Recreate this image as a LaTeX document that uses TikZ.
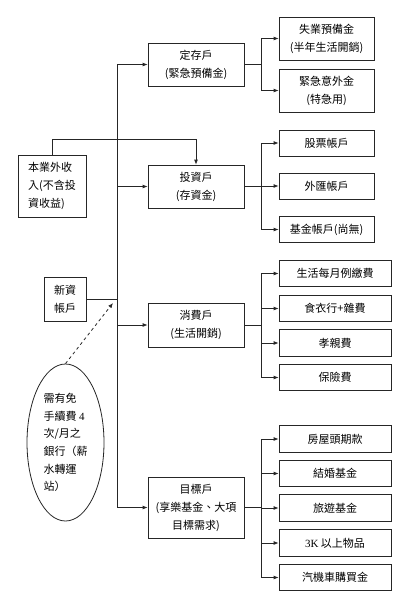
\documentclass[tikz,border=0pt]{standalone}
\usepackage{fontspec}
\newfontfamily\cjk{Noto Sans CJK TC}
\setmainfont{Liberation Serif}
\usetikzlibrary{arrows.meta,shapes.geometric}
\tikzset{
  bx/.style={draw=black!85,line width=0.8pt,fill=white,inner sep=1pt,align=center,
    font=\cjk\fontsize{11}{18}\selectfont},
  big/.style={bx,minimum width=96pt,minimum height=43pt},
  sub/.style={bx,minimum width=95pt},
  wide/.style={bx,minimum width=112pt,minimum height=26.5pt},
  ln/.style={line width=0.8pt,draw=black!85},
  arr/.style={ln,-{Latex[length=5pt,width=4pt]}}
}
\begin{document}
\begin{tikzpicture}[x=1pt,y=-1pt]
\useasboundingbox (0,0) rectangle (406,600);
\fill[white] (0,0) rectangle (406,600);
% main boxes
\node[big] (dc) at (196,64.5) {定存戶\\(緊急預備金)};
\node[big] (tz) at (196,186.5) {投資戶\\(存資金)};
\node[big,minimum height=44pt] (xf) at (196,325) {消費戶\\(生活開銷)};
\node[big,minimum height=61pt] (mb) at (196,507.5) {目標戶\\(享樂基金、大項\\目標需求)};
% sources
\node[bx,minimum width=68pt,minimum height=62pt,align=left] (inc) at (52,186) {本業外收\\入(不含投\\資收益)};
\node[bx,minimum width=42pt,minimum height=44pt,align=left] (sal) at (65,299) {新資\\帳戶};
\node[draw=black!85,line width=0.8pt,ellipse,minimum width=77pt,minimum height=157pt,inner sep=0pt,align=left,
  font=\cjk\fontsize{11}{17.7}\selectfont] (ell) at (65.5,442.5)
  {需有免\\手續費{\rmfamily\ 4}\\次/月之\\銀行（薪\\水轉運\\站）};
% sub boxes
\node[sub,minimum height=43pt] (s1) at (326.5,38.5) {失業預備金\\(半年生活開銷)};
\node[sub,minimum height=43pt] (s2) at (326.5,90.5) {緊急意外金\\(特急用)};
\node[sub,minimum height=26pt] (t1) at (326.5,143) {股票帳戶};
\node[sub,minimum height=26pt] (t2) at (326.5,186) {外匯帳戶};
\node[sub,minimum height=26pt] (t3) at (326.5,229.5) {基金帳戶(尚無)};
\node[wide] (x1) at (335,273.5) {生活每月例繳費};
\node[wide] (x2) at (335,308.5) {食衣行+雜費};
\node[wide] (x3) at (335,343) {孝親費};
\node[wide] (x4) at (335,377.5) {保險費};
\node[wide] (m1) at (335,439) {房屋頭期款};
\node[wide] (m2) at (335,473.5) {結婚基金};
\node[wide] (m3) at (335,508) {旅遊基金};
\node[wide] (m4) at (335,543) {{\rmfamily 3K} 以上物品};
\node[wide] (m5) at (335,577.5) {汽機車購買金};
% trunk
\coordinate (j0) at (117,299);
\draw[ln] (sal.east) -- (j0);
\draw[arr] (j0) |- (dc.west);
\draw[arr] (j0) |- (mb.west);
\draw[arr] (tz.west -| j0) -- (tz.west);
\draw[arr] (xf.west -| j0) -- (xf.west);
% income
\coordinate (ib) at (196,139);
\draw[arr] (inc.north) |- (ib) -- (tz.north);
% dashed
\coordinate (dt) at (113,303);
\draw[ln,dashed,-{Latex[length=5pt,width=4pt]}] (ell.north) -- (dt);
% groups
\coordinate (jd) at (261,64.5);
\draw[ln] (dc.east) -- (jd);
\draw[arr] (jd) |- (s1.west);
\draw[arr] (jd) |- (s2.west);
\coordinate (jt) at (261,186.5);
\draw[ln] (tz.east) -- (jt);
\draw[arr] (jt) |- (t1.west);
\draw[arr] (jt) |- (t2.west);
\draw[arr] (jt) |- (t3.west);
\coordinate (jx) at (261,325);
\draw[ln] (xf.east) -- (jx);
\draw[arr] (jx) |- (x1.west);
\draw[arr] (jx) |- (x2.west);
\draw[arr] (jx) |- (x3.west);
\draw[arr] (jx) |- (x4.west);
\coordinate (jm) at (261,507.5);
\draw[ln] (mb.east) -- (jm);
\draw[arr] (jm) |- (m1.west);
\draw[arr] (jm) |- (m2.west);
\draw[arr] (jm) |- (m3.west);
\draw[arr] (jm) |- (m4.west);
\draw[arr] (jm) |- (m5.west);
\end{tikzpicture}
\end{document}
